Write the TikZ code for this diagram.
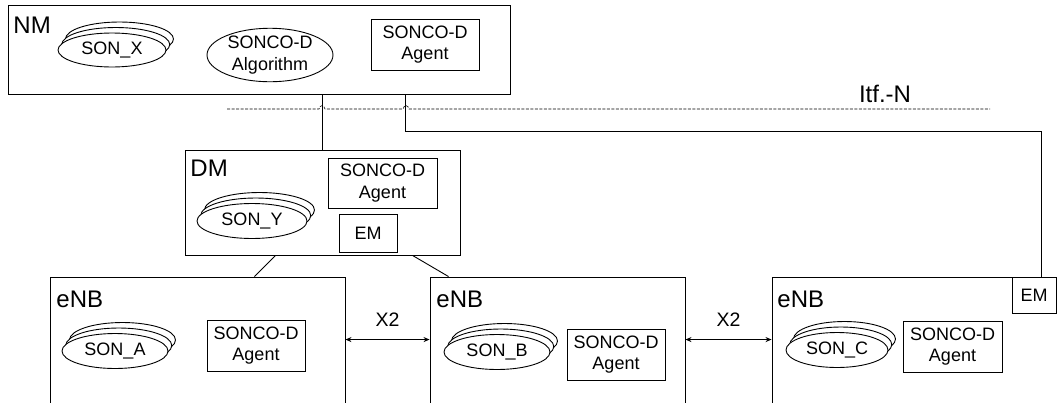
\documentclass[tikz,border=0pt]{standalone}
\usepackage{fontspec}
\setmainfont{Liberation Sans}
\usetikzlibrary{calc,arrows.meta,shapes.geometric}

% stacked ellipses standing for a family of SON functions:
% #1 name, #2 x, #3 y, #4 width, #5 height, #6 label
\newcommand\sonstack[6]{%
  \node[sonell, minimum width=#4, minimum height=#5] (#1-3) at (#2+7.5,#3-11) {};
  \node[sonell, minimum width=#4, minimum height=#5] (#1-2) at (#2+3.75,#3-5.5) {};
  \node[sonell, minimum width=#4, minimum height=#5] (#1) at (#2,#3) {#6};
}

\begin{document}
\begin{tikzpicture}[x=1pt,y=-1pt, line width=0.9pt,
  small/.style={font=\fontsize{18}{21.5}\selectfont},
  box/.style={draw, fill=white, inner sep=0pt, align=center, small},
  sonell/.style={draw, fill=white, ellipse, inner sep=0pt, align=center, small},
  biglabel/.style={anchor=base west, inner sep=0pt, font=\fontsize{24}{28}\selectfont},
  itf/.style={dash pattern=on 3pt off 1.5pt, line width=0.6pt},
  x2link/.style={{Stealth[length=6pt,width=5pt]}-{Stealth[length=6pt,width=5pt]}}]

\fill[white] (0,0) rectangle (1057,402);
\clip (0,0) rectangle (1057,402);

% ---------------- network management ----------------
\node[box, minimum width=502, minimum height=89] (nm) at (259,49.5) {};
\node[biglabel] (nmlabel) at (13,33) {NM};
\sonstack{sonx}{112}{50}{108}{34}{SON\_X}
\node[sonell, minimum width=126, minimum height=46] (nmalg) at (270,55) {SONCO-D\\Algorithm};
\node[box, minimum width=108, minimum height=51] (nmagent) at (425,44.5) {SONCO-D\\Agent};

% ---------------- Itf-N ----------------
\draw[itf] (227,109) -- (319,109) .. controls (320,104.5) and (324,104.5) .. (325,109)
  -- (403,109) .. controls (404,104.5) and (408,104.5) .. (409,109) -- (990,109);
\node[biglabel, anchor=center] (itfn) at (885,93.5) {Itf.-N};

% ---------------- domain management ----------------
\node[box, minimum width=275, minimum height=105] (dm) at (322.5,202.5) {};
\node[biglabel] (dmlabel) at (190,176) {DM};
\node[box, minimum width=109, minimum height=50] (dmagent) at (382.5,183) {SONCO-D\\Agent};
\node[box, minimum width=58, minimum height=38] (dmem) at (368,233) {EM};
\sonstack{sony}{252}{221}{110}{35}{SON\_Y}

% ---------------- eNBs (boxes run past the lower edge) ----------------
\node[box, minimum width=295, minimum height=163] (enb1) at (197.5,358.5) {};
\node[box, minimum width=255, minimum height=163] (enb2) at (557.5,358.5) {};
\node[box, minimum width=328, minimum height=163] (enb3) at (936,358.5) {};
\node[box, minimum width=44, minimum height=36] (em) at (1034,295) {EM};

\node[biglabel] (enb1label) at (56,307) {eNB};
\node[biglabel] (enb2label) at (436,307) {eNB};
\node[biglabel] (enb3label) at (777,307) {eNB};

\sonstack{sona}{115}{351}{106}{35}{SON\_A}
\sonstack{sonb}{497}{352}{106}{35}{SON\_B}
\sonstack{sonc}{837}{350}{102}{35}{SON\_C}

\node[box, minimum width=98, minimum height=51] (agenta) at (256,345.5) {SONCO-D\\Agent};
\node[box, minimum width=98, minimum height=51] (agentb) at (616,354.5) {SONCO-D\\Agent};
\node[box, minimum width=99, minimum height=51] (agentc) at (952.5,346.5) {SONCO-D\\Agent};

% ---------------- links ----------------
\draw (dm.north |- nm.south) -- (dm.north);
\coordinate (nmport) at ($(nm.south west)+(398,0)$);
\draw (nmport) -- ($(nmport)+(0,37)$) -| ($(em.north)+(7,0)$);

\draw ($(dm.south west)+(91,0)$) -- ($(enb1.north west)+(205,0)$);
\draw ($(dm.south west)+(228,0)$) -- ($(enb2.north west)+(19,0)$);

\draw[x2link] ($(enb1.north east)+(0,63)$) -- ($(enb2.north west)+(0,63)$)
  node[midway, anchor=base, inner sep=0pt, yshift=13pt, font=\fontsize{19.5}{23}\selectfont] {X2};
\draw[x2link] ($(enb2.north east)+(0,63)$) -- ($(enb3.north west)+(0,63)$)
  node[midway, anchor=base, inner sep=0pt, yshift=13pt, font=\fontsize{19.5}{23}\selectfont] {X2};

\end{tikzpicture}
\end{document}
